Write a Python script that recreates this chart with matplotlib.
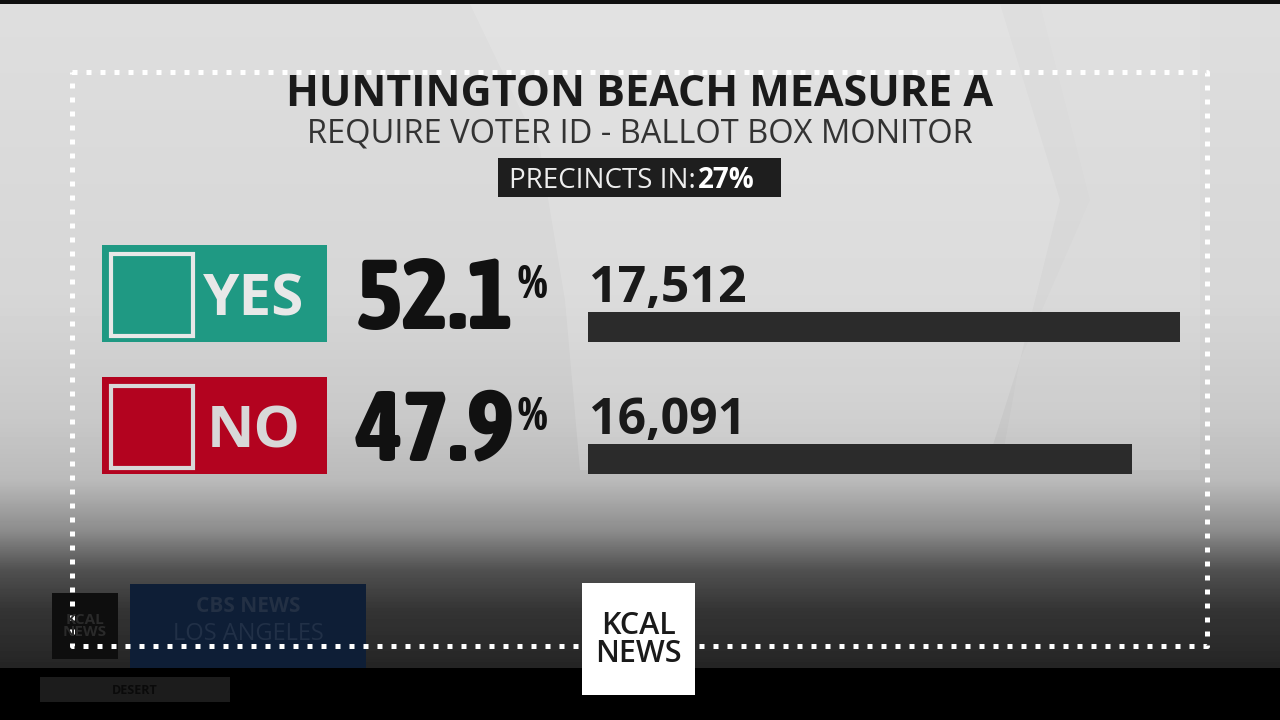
import numpy as np
import matplotlib
matplotlib.use('Agg')
import matplotlib.pyplot as plt
from matplotlib import font_manager as fm
from matplotlib.patches import Rectangle, Polygon

# data
choices = ['YES', 'NO']
pct = [52.1, 47.9]
votes = [17512, 16091]
precincts_in = 27
title = 'HUNTINGTON BEACH MEASURE A'
subtitle = 'REQUIRE VOTER ID - BALLOT BOX MONITOR'

box_colors = ['#1f9983', '#b3031f']
label_colors = ['#e8e8e8', '#d8d8d8']

W, H = 1280, 720
fig = plt.figure(figsize=(12.8, 7.2), dpi=100)


def fx(x):
    return x / W


def fy(y):
    return 1 - y / H


# look for a condensed bold face for the big numbers
cond = [f for f in fm.fontManager.ttflist
        if ('ondensed' in f.fname or 'Narrow' in f.name
            or f.stretch in ('condensed', 'extra-condensed', 'ultra-condensed'))
        and (f.weight in ('bold', 'heavy', 'black', 'extra bold', 'semibold')
             or (isinstance(f.weight, int) and f.weight >= 600))]
cond.sort(key=lambda f: ('xtra' not in f.fname, 'Bold' not in f.fname))
if cond:
    big_font = fm.FontProperties(fname=cond[0].fname)
    big_size, pct_size = 72, 34
else:
    big_font = fm.FontProperties(family='Roboto', weight='bold')
    big_size, pct_size = 58, 28

# background gradient
bg = fig.add_axes([0, 0, 1, 1])
bg.set_axis_off()
rows = np.arange(H)
gray = np.interp(rows, [0, 3, 4, 300, 420, 480, 530, 570, 610, 650, 667, 668, 720],
                 [15, 15, 222, 214, 200, 186, 140, 80, 52, 42, 36, 0, 0]) / 255
img = np.repeat(gray[:, None], W, axis=1)
bg.imshow(img, cmap='gray', vmin=0, vmax=1, extent=(0, W, H, 0), aspect='auto')
# soft swoosh shapes of the studio backdrop
bg.add_patch(Polygon([(470, 4), (1000, 4), (1060, 200), (1020, 360), (985, 470),
                      (580, 470), (565, 300), (540, 150)],
                     closed=True, color='white', alpha=0.14, lw=0))
bg.add_patch(Polygon([(1040, 4), (1200, 4), (1200, 470), (1000, 470), (1020, 360),
                      (1090, 200)],
                     closed=True, color='white', alpha=0.08, lw=0))
bg.set_xlim(0, W)
bg.set_ylim(H, 0)

# dotted frame
bg.plot([72, 1207, 1207, 72, 72], [72, 72, 646, 646, 72], color='white', lw=3.6,
        ls=(0, (1, 1.8)), dash_capstyle='butt', solid_capstyle='butt')

# title block
fig.text(fx(640), fy(106), title, ha='center', va='baseline', fontsize=31,
         fontweight='bold', family='Open Sans', color='#1a1a1a')
fig.text(fx(640), fy(142), subtitle, ha='center', va='baseline', fontsize=23.5,
         family='Open Sans', color='#333333')
bg.add_patch(Rectangle((498, 158), 283, 39, color='#1e1e1e', lw=0))
t1 = fig.text(fx(509), fy(188), 'PRECINCTS IN:', ha='left', va='baseline', fontsize=20,
              family='Open Sans', color='#eeeeee')
fig.canvas.draw()
bb = t1.get_window_extent()
fig.text(bb.x1 / W + 0.002, fy(188), f'{precincts_in}%', ha='left', va='baseline',
         fontsize=20, fontweight='bold', family='Open Sans', color='white')

# choice rows
row_top = [245, 377]
for i, name in enumerate(choices):
    top = row_top[i]
    bg.add_patch(Rectangle((102, top), 225, 97, color=box_colors[i], lw=0))
    bg.add_patch(Rectangle((111, top + 9), 82, 82, fill=False, ec=label_colors[i], lw=3))
    fig.text(fx(254), fy(top + 70), name, ha='center', va='baseline', fontsize=42,
             fontweight='bold', family='Open Sans', color=label_colors[i])
    pt = fig.text(fx(356), fy(top + 84), f'{pct[i]:.1f}', ha='left', va='baseline',
                  fontproperties=big_font, color='#111111')
    pt.set_fontsize(big_size)
    fig.canvas.draw()
    pb = pt.get_window_extent()
    pc = fig.text(pb.x1 / W + 0.002, fy(top + 53), '%', ha='left', va='baseline',
                  fontproperties=big_font, color='#111111')
    pc.set_fontsize(pct_size)
    fig.text(fx(589), fy(top + 57), f'{votes[i]:,}', ha='left', va='baseline',
             fontsize=36, fontweight='bold', family='Open Sans', color='#1a1a1a')

# bars
ax = fig.add_axes([fx(588), fy(525), fx(592), 264 / H])
ax.barh(range(len(votes)), votes, height=30 / 132, color='#2b2b2b', left=0)
ax.set_xlim(0, max(votes))
ax.set_ylim(1.5, -0.5)
ax.set_axis_off()

# station branding at the bottom
bg.add_patch(Rectangle((52, 593), 66, 66, color='#0e0e0e', lw=0))
bg.text(85, 626, 'KCAL\nNEWS', ha='center', va='center', fontsize=11, fontweight='bold',
        family='Open Sans', color='#2a2a2a', linespacing=0.9)
bg.add_patch(Rectangle((130, 584), 236, 84, color='#0e1e36', lw=0))
bg.text(248, 607, 'CBS NEWS', ha='center', va='center', fontsize=15, fontweight='bold',
        family='Open Sans', color='#233044')
bg.text(248, 634, 'LOS ANGELES', ha='center', va='center', fontsize=17,
        family='Open Sans', color='#213047')
bg.add_patch(Rectangle((40, 677), 190, 25, color='#1c1c1c', lw=0))
bg.text(135, 690, 'DESERT', ha='center', va='center', fontsize=9, fontweight='bold',
        family='Open Sans', color='#0a0a0a')
bg.add_patch(Rectangle((582, 583), 113, 112, color='white', lw=0))
bg.text(638, 640, 'KCAL\nNEWS', ha='center', va='center', fontsize=22,
        fontweight='semibold', family='Open Sans', color='#1a1a1a', linespacing=0.95)

fig.savefig('out.png', dpi=100)
